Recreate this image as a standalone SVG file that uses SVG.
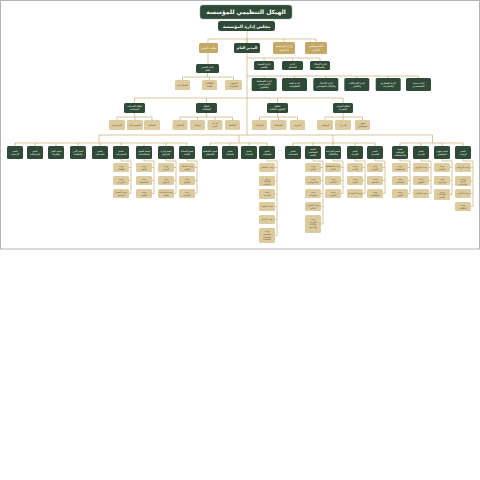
<svg xmlns="http://www.w3.org/2000/svg" width="480" height="480" viewBox="0 0 480 480">
<style>
.g{fill:#2f4a36}
.o{fill:#c4a866}
.l{fill:#dccb9f}
text{font-family:"DejaVu Sans","Noto Sans",sans-serif;text-anchor:middle}
.w{fill:#ffffff}
.d{fill:#5a4a26}
.c{stroke:#c5ad76;stroke-width:0.7;fill:none}
</style>
<rect x="0.5" y="0.5" width="479" height="248.5" fill="#ffffff" stroke="#b5b5b5" stroke-width="1"/>
<g id="connectors" class="c">
<path d="M247,31V135M208,39H316M208,39V43M247,39V43M284,39V42M316,39V42"/>
<path d="M208,53V64M207.5,73V77M182.5,77H233.5M182.5,77V80M209.5,77V80M233.5,77V80"/>
<path d="M247,58H320M264,58V61M292.5,58V61M320,58V61"/>
<path d="M247,76H418.5M264.2,76V78M294.5,76V78M325.8,76V78M356.8,76V78M388.2,76V78M418.5,76V78"/>
<path d="M134.5,98H343M134.5,98V103M206.5,98V103M277.5,98V103M343,98V103"/>
<path d="M134.5,113V117M117,117H152M117,117V120M135,117V120M152,117V120"/>
<path d="M206.5,113V117M180,117H232.5M180,117V120M197.5,117V120M215,117V120M232.5,117V120"/>
<path d="M277.5,113V117M259.5,117H297.5M259.5,117V120M278.5,117V120M297.5,117V120"/>
<path d="M343,113V117M325,117H362.5M325,117V120M343,117V120M362.5,117V120"/>
<path d="M99,135H432.5M99,135V143M239,135V143M333,135V143M432.5,135V143"/>
<path d="M15,143H187M15,143V146M35,143V146M56,143V146M78,143V146M100,143V146M121,143V146M144,143V146M166,143V146M187,143V146"/>
<path d="M210,143H267M210,143V146M230,143V146M249,143V146M267,143V146"/>
<path d="M293,143H375M293,143V146M313,143V146M333,143V146M355,143V146M375,143V146"/>
<path d="M400,143H463M400,143V146M421,143V146M442,143V146M463,143V146"/>
<path d="M121,159V161H131V193.5M131,167.5H129M131,180.5H129M131,193.5H129"/>
<path d="M144,159V161H154V193.5M154,167.5H152M154,180.5H152M154,193.5H152"/>
<path d="M166,159V161H176V193.5M176,167.5H174M176,180.5H174M176,193.5H174"/>
<path d="M187,159V161H197V193.5M197,167.5H195M197,180.5H195M197,193.5H195"/>
<path d="M267,159V161H277V235.5M277,167.5H275M277,181H275M277,194H275M277,206.5H275M277,219.5H275M277,235.5H275"/>
<path d="M313,159V161H323V224M323,167.5H321M323,180.5H321M323,193.5H321M323,206.5H321M323,224H321"/>
<path d="M333,159V161H343V193.5M343,167.5H341M343,180.5H341M343,193.5H341"/>
<path d="M355,159V161H365V193.5M365,167.5H363M365,180.5H363M365,193.5H363"/>
<path d="M375,159V161H385V193.5M385,167.5H383M385,180.5H383M385,193.5H383"/>
<path d="M400,159V161H410V193.5M410,167.5H408M410,180.5H408M410,193.5H408"/>
<path d="M421,159V161H431V193.5M431,167.5H429M431,180.5H429M431,193.5H429"/>
<path d="M442,159V161H452V194.5M452,167.5H450M452,180.5H450M452,194.5H450"/>
<path d="M463,159V161H473V206.5M473,167.5H471M473,181H471M473,193.5H471M473,206.5H471"/>
</g>
<g id="title"><rect x="200" y="5" width="92" height="14" rx="3" class="g" stroke="#8fa58f" stroke-width="0.5"/><text x="246" y="14.2" font-size="6" font-weight="bold" class="w">الهيكل التنظيمي للمؤسسة</text></g>
<g id="board"><rect x="218" y="21" width="57" height="10" rx="2.5" class="g"/><text x="246.5" y="27.7" font-size="4.4" font-weight="bold" class="w">مجلس إدارة المؤسسة</text></g>
<g id="office"><rect x="199" y="43" width="19" height="10" rx="1.5" class="o"/><text x="208.5" y="49" font-size="3" class="w">مكتب المدير</text></g>
<g id="gm"><rect x="234" y="43" width="26" height="10" rx="1.5" class="g"/><text x="247" y="49.3" font-size="3.6" font-weight="bold" class="w">المدير العام</text></g>
<g id="audit"><rect x="273" y="42" width="22" height="12" rx="1.5" class="o"/><text x="284" y="47.2" font-size="2.8" class="w">إدارة المراجعة</text><text x="284" y="50.8" font-size="2.8" class="w">الداخلية</text></g>
<g id="secretariat"><rect x="305" y="42" width="22" height="12" rx="1.5" class="o"/><text x="316" y="47.2" font-size="2.8" class="w">أمانة مجلس</text><text x="316" y="50.8" font-size="2.8" class="w">الإدارة</text></g>
<g id="deputy"><rect x="196" y="64" width="23" height="9" rx="1.5" class="g"/><text x="207.5" y="67.9" font-size="2.6" class="w">نائب المدير</text><text x="207.5" y="71" font-size="2.6" class="w">العام</text></g>
<g id="dep1"><rect x="175" y="80" width="15" height="10" rx="1.5" class="l"/><text x="182.5" y="85.9" font-size="2.4" class="d">السكرتارية</text></g>
<g id="dep2"><rect x="202" y="80" width="15" height="10" rx="1.5" class="l"/><text x="209.5" y="84.4" font-size="2.4" class="d">العلاقات</text><text x="209.5" y="87.3" font-size="2.4" class="d">العامة</text></g>
<g id="dep3"><rect x="225" y="80" width="17" height="10" rx="1.5" class="l"/><text x="233.5" y="84.4" font-size="2.4" class="d">الشؤون</text><text x="233.5" y="87.3" font-size="2.4" class="d">القانونية</text></g>
<g id="r1a"><rect x="254" y="61" width="20" height="9" rx="1.5" class="g"/><text x="264" y="64.9" font-size="2.5" class="w">إدارة الجودة</text><text x="264" y="67.9" font-size="2.5" class="w">والتميز</text></g>
<g id="r1b"><rect x="282" y="61" width="21" height="9" rx="1.5" class="g"/><text x="292.5" y="64.9" font-size="2.5" class="w">إدارة</text><text x="292.5" y="67.9" font-size="2.5" class="w">المخاطر</text></g>
<g id="r1c"><rect x="310" y="61" width="20" height="9" rx="1.5" class="g"/><text x="320" y="64.9" font-size="2.5" class="w">إدارة الامتثال</text><text x="320" y="67.9" font-size="2.5" class="w">والحوكمة</text></g>
<g id="r2a"><rect x="251.7" y="78" width="25" height="13" rx="1.5" class="g"/><text x="264.2" y="82.4" font-size="2.5" class="w">إدارة التخطيط</text><text x="264.2" y="85.4" font-size="2.5" class="w">الاستراتيجي</text><text x="264.2" y="88.4" font-size="2.5" class="w">والتطوير</text></g>
<g id="r2b"><rect x="282" y="78" width="25" height="13" rx="1.5" class="g"/><text x="294.5" y="83.9" font-size="2.5" class="w">إدارة تقنية</text><text x="294.5" y="86.9" font-size="2.5" class="w">المعلومات</text></g>
<g id="r2c"><rect x="313.3" y="78" width="25" height="13" rx="1.5" class="g"/><text x="325.8" y="83.9" font-size="2.5" class="w">إدارة الاتصال</text><text x="325.8" y="86.9" font-size="2.5" class="w">والإعلام المؤسسي</text></g>
<g id="r2d"><rect x="344.3" y="78" width="25" height="13" rx="1.5" class="g"/><text x="356.8" y="83.9" font-size="2.5" class="w">إدارة الشراكات</text><text x="356.8" y="86.9" font-size="2.5" class="w">والتعاون</text></g>
<g id="r2e"><rect x="375.7" y="78" width="25" height="13" rx="1.5" class="g"/><text x="388.2" y="83.9" font-size="2.5" class="w">إدارة المشاريع</text><text x="388.2" y="86.9" font-size="2.5" class="w">والمبادرات</text></g>
<g id="r2f"><rect x="406" y="78" width="25" height="13" rx="1.5" class="g"/><text x="418.5" y="83.9" font-size="2.5" class="w">إدارة خدمة</text><text x="418.5" y="86.9" font-size="2.5" class="w">المستفيدين</text></g>
<g id="s1"><rect x="124" y="103" width="21" height="10" rx="1.5" class="g"/><text x="134.5" y="107.4" font-size="2.5" class="w">قطاع الخدمات</text><text x="134.5" y="110.4" font-size="2.5" class="w">المساندة</text></g>
<g id="s2"><rect x="196" y="103" width="21" height="10" rx="1.5" class="g"/><text x="206.5" y="107.4" font-size="2.5" class="w">قطاع</text><text x="206.5" y="110.4" font-size="2.5" class="w">العمليات</text></g>
<g id="s3"><rect x="267" y="103" width="21" height="10" rx="1.5" class="g"/><text x="277.5" y="107.4" font-size="2.5" class="w">قطاع</text><text x="277.5" y="110.4" font-size="2.5" class="w">الشؤون المالية</text></g>
<g id="s4"><rect x="333" y="103" width="20" height="10" rx="1.5" class="g"/><text x="343" y="107.4" font-size="2.5" class="w">قطاع الموارد</text><text x="343" y="110.4" font-size="2.5" class="w">البشرية</text></g>
<g id="s1a"><rect x="109" y="120" width="16" height="10" rx="1.5" class="l"/><text x="117" y="125.9" font-size="2.3" class="d">المشتريات</text></g>
<g id="s1b"><rect x="127" y="120" width="16" height="10" rx="1.5" class="l"/><text x="135" y="125.9" font-size="2.3" class="d">المستودعات</text></g>
<g id="s1c"><rect x="144" y="120" width="16" height="10" rx="1.5" class="l"/><text x="152" y="125.9" font-size="2.3" class="d">الصيانة</text></g>
<g id="s2a"><rect x="172.5" y="120" width="15" height="10" rx="1.5" class="l"/><text x="180" y="125.9" font-size="2.3" class="d">التشغيل</text></g>
<g id="s2b"><rect x="190" y="120" width="15" height="10" rx="1.5" class="l"/><text x="197.5" y="125.9" font-size="2.3" class="d">الرقابة</text></g>
<g id="s2c"><rect x="207.5" y="120" width="15" height="10" rx="1.5" class="l"/><text x="215" y="124.4" font-size="2.3" class="d">الدعم</text><text x="215" y="127.3" font-size="2.3" class="d">الفني</text></g>
<g id="s2d"><rect x="225" y="120" width="15" height="10" rx="1.5" class="l"/><text x="232.5" y="125.9" font-size="2.3" class="d">السلامة</text></g>
<g id="s3a"><rect x="252" y="120" width="15" height="10" rx="1.5" class="l"/><text x="259.5" y="125.9" font-size="2.3" class="d">الميزانية</text></g>
<g id="s3b"><rect x="270.5" y="120" width="16" height="10" rx="1.5" class="l"/><text x="278.5" y="125.9" font-size="2.3" class="d">المحاسبة</text></g>
<g id="s3c"><rect x="290" y="120" width="15" height="10" rx="1.5" class="l"/><text x="297.5" y="125.9" font-size="2.3" class="d">الخزينة</text></g>
<g id="s4a"><rect x="317" y="120" width="16" height="10" rx="1.5" class="l"/><text x="325" y="125.9" font-size="2.3" class="d">التوظيف</text></g>
<g id="s4b"><rect x="335" y="120" width="16" height="10" rx="1.5" class="l"/><text x="343" y="125.9" font-size="2.3" class="d">التدريب</text></g>
<g id="s4c"><rect x="355" y="120" width="15" height="10" rx="1.5" class="l"/><text x="362.5" y="124.4" font-size="2.3" class="d">شؤون</text><text x="362.5" y="127.3" font-size="2.3" class="d">الموظفين</text></g>
<g id="b1"><rect x="7" y="146" width="16" height="13" rx="1.5" class="g"/><text x="15" y="151.8" font-size="2.4" class="w">قسم</text><text x="15" y="154.8" font-size="2.4" class="w">الأرشيف</text></g>
<g id="b2"><rect x="27" y="146" width="16" height="13" rx="1.5" class="g"/><text x="35" y="151.8" font-size="2.4" class="w">قسم</text><text x="35" y="154.8" font-size="2.4" class="w">المراسلات</text></g>
<g id="b3"><rect x="48" y="146" width="16" height="13" rx="1.5" class="g"/><text x="56" y="151.8" font-size="2.4" class="w">قسم النقل</text><text x="56" y="154.8" font-size="2.4" class="w">والحركة</text></g>
<g id="b4"><rect x="70" y="146" width="16" height="13" rx="1.5" class="g"/><text x="78" y="151.8" font-size="2.4" class="w">قسم الأمن</text><text x="78" y="154.8" font-size="2.4" class="w">والسلامة</text></g>
<g id="b5"><rect x="92" y="146" width="16" height="13" rx="1.5" class="g"/><text x="100" y="151.8" font-size="2.4" class="w">قسم</text><text x="100" y="154.8" font-size="2.4" class="w">الخدمات</text></g>
<g id="b6"><rect x="113" y="146" width="16" height="13" rx="1.5" class="g"/><text x="121" y="151.8" font-size="2.4" class="w">قسم</text><text x="121" y="154.8" font-size="2.4" class="w">المشتريات</text></g>
<g id="b7"><rect x="136" y="146" width="16" height="13" rx="1.5" class="g"/><text x="144" y="151.8" font-size="2.4" class="w">قسم العقود</text><text x="144" y="154.8" font-size="2.4" class="w">والمناقصات</text></g>
<g id="b8"><rect x="158" y="146" width="16" height="13" rx="1.5" class="g"/><text x="166" y="151.8" font-size="2.4" class="w">قسم إدارة</text><text x="166" y="154.8" font-size="2.4" class="w">المرافق</text></g>
<g id="b9"><rect x="179" y="146" width="16" height="13" rx="1.5" class="g"/><text x="187" y="151.8" font-size="2.4" class="w">قسم الصيانة</text><text x="187" y="154.8" font-size="2.4" class="w">العامة</text></g>
<g id="b10"><rect x="202" y="146" width="16" height="13" rx="1.5" class="g"/><text x="210" y="151.8" font-size="2.4" class="w">قسم التخطيط</text><text x="210" y="154.8" font-size="2.4" class="w">التشغيلي</text></g>
<g id="b11"><rect x="222" y="146" width="16" height="13" rx="1.5" class="g"/><text x="230" y="151.8" font-size="2.4" class="w">قسم</text><text x="230" y="154.8" font-size="2.4" class="w">المتابعة</text></g>
<g id="b12"><rect x="241" y="146" width="16" height="13" rx="1.5" class="g"/><text x="249" y="151.8" font-size="2.4" class="w">قسم</text><text x="249" y="154.8" font-size="2.4" class="w">الإحصاء</text></g>
<g id="b13"><rect x="259" y="146" width="16" height="13" rx="1.5" class="g"/><text x="267" y="151.8" font-size="2.4" class="w">قسم</text><text x="267" y="154.8" font-size="2.4" class="w">العمليات</text></g>
<g id="b14"><rect x="285" y="146" width="16" height="13" rx="1.5" class="g"/><text x="293" y="151.8" font-size="2.4" class="w">قسم</text><text x="293" y="154.8" font-size="2.4" class="w">الحسابات</text></g>
<g id="b15"><rect x="305" y="146" width="16" height="13" rx="1.5" class="g"/><text x="313" y="150.3" font-size="2.4" class="w">قسم</text><text x="313" y="153.3" font-size="2.4" class="w">المحاسبة</text><text x="313" y="156.3" font-size="2.4" class="w">العامة</text></g>
<g id="b16"><rect x="325" y="146" width="16" height="13" rx="1.5" class="g"/><text x="333" y="151.8" font-size="2.4" class="w">قسم الميزانية</text><text x="333" y="154.8" font-size="2.4" class="w">والتكاليف</text></g>
<g id="b17"><rect x="347" y="146" width="16" height="13" rx="1.5" class="g"/><text x="355" y="151.8" font-size="2.4" class="w">قسم</text><text x="355" y="154.8" font-size="2.4" class="w">الخزينة</text></g>
<g id="b18"><rect x="367" y="146" width="16" height="13" rx="1.5" class="g"/><text x="375" y="151.8" font-size="2.4" class="w">قسم</text><text x="375" y="154.8" font-size="2.4" class="w">التحصيل</text></g>
<g id="b19"><rect x="392" y="146" width="16" height="13" rx="1.5" class="g"/><text x="400" y="150.3" font-size="2.4" class="w">قسم</text><text x="400" y="153.3" font-size="2.4" class="w">التوظيف</text><text x="400" y="156.3" font-size="2.4" class="w">والاستقطاب</text></g>
<g id="b20"><rect x="413" y="146" width="16" height="13" rx="1.5" class="g"/><text x="421" y="151.8" font-size="2.4" class="w">قسم</text><text x="421" y="154.8" font-size="2.4" class="w">التدريب</text></g>
<g id="b21"><rect x="434" y="146" width="16" height="13" rx="1.5" class="g"/><text x="442" y="151.8" font-size="2.4" class="w">قسم شؤون</text><text x="442" y="154.8" font-size="2.4" class="w">الموظفين</text></g>
<g id="b22"><rect x="455" y="146" width="16" height="13" rx="1.5" class="g"/><text x="463" y="151.8" font-size="2.4" class="w">قسم</text><text x="463" y="154.8" font-size="2.4" class="w">الرواتب</text></g>
<g id="c6"><rect x="113" y="163" width="16" height="9" rx="1.5" class="l"/><text x="121" y="166.9" font-size="2.2" class="d">وحدة</text><text x="121" y="169.7" font-size="2.2" class="d">الطلبات</text><rect x="113" y="176" width="16" height="9" rx="1.5" class="l"/><text x="121" y="179.9" font-size="2.2" class="d">وحدة</text><text x="121" y="182.7" font-size="2.2" class="d">الموردين</text><rect x="113" y="189" width="16" height="9" rx="1.5" class="l"/><text x="121" y="192.9" font-size="2.2" class="d">وحدة الشراء</text><text x="121" y="195.7" font-size="2.2" class="d">المباشر</text></g>
<g id="c7"><rect x="136" y="163" width="16" height="9" rx="1.5" class="l"/><text x="144" y="166.9" font-size="2.2" class="d">وحدة</text><text x="144" y="169.7" font-size="2.2" class="d">العقود</text><rect x="136" y="176" width="16" height="9" rx="1.5" class="l"/><text x="144" y="179.9" font-size="2.2" class="d">وحدة</text><text x="144" y="182.7" font-size="2.2" class="d">المناقصات</text><rect x="136" y="189" width="16" height="9" rx="1.5" class="l"/><text x="144" y="192.9" font-size="2.2" class="d">وحدة</text><text x="144" y="195.7" font-size="2.2" class="d">التقييم</text></g>
<g id="c8"><rect x="158" y="163" width="16" height="9" rx="1.5" class="l"/><text x="166" y="166.9" font-size="2.2" class="d">وحدة</text><text x="166" y="169.7" font-size="2.2" class="d">المباني</text><rect x="158" y="176" width="16" height="9" rx="1.5" class="l"/><text x="166" y="179.9" font-size="2.2" class="d">وحدة</text><text x="166" y="182.7" font-size="2.2" class="d">المرافق</text><rect x="158" y="189" width="16" height="9" rx="1.5" class="l"/><text x="166" y="192.9" font-size="2.2" class="d">وحدة الخدمات</text><text x="166" y="195.7" font-size="2.2" class="d">العامة</text></g>
<g id="c9"><rect x="179" y="163" width="16" height="9" rx="1.5" class="l"/><text x="187" y="166.9" font-size="2.2" class="d">وحدة الصيانة</text><text x="187" y="169.7" font-size="2.2" class="d">الوقائية</text><rect x="179" y="176" width="16" height="9" rx="1.5" class="l"/><text x="187" y="179.9" font-size="2.2" class="d">وحدة</text><text x="187" y="182.7" font-size="2.2" class="d">الإصلاح</text><rect x="179" y="189" width="16" height="9" rx="1.5" class="l"/><text x="187" y="192.9" font-size="2.2" class="d">وحدة</text><text x="187" y="195.7" font-size="2.2" class="d">المعدات</text></g>
<g id="c13"><rect x="259" y="163" width="16" height="9" rx="1.5" class="l"/><text x="267" y="168.3" font-size="2.2" class="d">وحدة التشغيل</text><rect x="259" y="176" width="16" height="10" rx="1.5" class="l"/><text x="267" y="179.6" font-size="2.2" class="d">وحدة</text><text x="267" y="182.2" font-size="2.2" class="d">المراقبة</text><text x="267" y="184.8" font-size="2.2" class="d">والتحكم</text><rect x="259" y="189" width="16" height="10" rx="1.5" class="l"/><text x="267" y="193.4" font-size="2.2" class="d">وحدة</text><text x="267" y="196.2" font-size="2.2" class="d">الجدولة</text><rect x="259" y="202" width="16" height="9" rx="1.5" class="l"/><text x="267" y="207.3" font-size="2.2" class="d">وحدة الجودة</text><rect x="259" y="215" width="16" height="9" rx="1.5" class="l"/><text x="267" y="220.3" font-size="2.2" class="d">وحدة الدعم</text><rect x="259" y="228" width="16" height="15" rx="1.5" class="l"/><text x="267" y="232.2" font-size="2.2" class="d">وحدة</text><text x="267" y="234.9" font-size="2.2" class="d">التحسين</text><text x="267" y="237.6" font-size="2.2" class="d">المستمر</text><text x="267" y="240.3" font-size="2.2" class="d">للعمليات</text></g>
<g id="c15"><rect x="305" y="163" width="16" height="9" rx="1.5" class="l"/><text x="313" y="166.9" font-size="2.2" class="d">وحدة</text><text x="313" y="169.7" font-size="2.2" class="d">القيود</text><rect x="305" y="176" width="16" height="9" rx="1.5" class="l"/><text x="313" y="179.9" font-size="2.2" class="d">وحدة</text><text x="313" y="182.7" font-size="2.2" class="d">المدفوعات</text><rect x="305" y="189" width="16" height="9" rx="1.5" class="l"/><text x="313" y="192.9" font-size="2.2" class="d">وحدة</text><text x="313" y="195.7" font-size="2.2" class="d">التسويات</text><rect x="305" y="202" width="16" height="9" rx="1.5" class="l"/><text x="313" y="205.9" font-size="2.2" class="d">وحدة التقارير</text><text x="313" y="208.7" font-size="2.2" class="d">المالية</text><rect x="305" y="215" width="16" height="18" rx="1.5" class="l"/><text x="313" y="219.8" font-size="2.2" class="d">وحدة</text><text x="313" y="222.6" font-size="2.2" class="d">الضرائب</text><text x="313" y="225.4" font-size="2.2" class="d">والزكاة</text><text x="313" y="228.2" font-size="2.2" class="d">والرسوم</text></g>
<g id="c16"><rect x="325" y="163" width="16" height="9" rx="1.5" class="l"/><text x="333" y="166.9" font-size="2.2" class="d">وحدة التخطيط</text><text x="333" y="169.7" font-size="2.2" class="d">المالي</text><rect x="325" y="176" width="16" height="9" rx="1.5" class="l"/><text x="333" y="179.9" font-size="2.2" class="d">وحدة</text><text x="333" y="182.7" font-size="2.2" class="d">التكاليف</text><rect x="325" y="189" width="16" height="9" rx="1.5" class="l"/><text x="333" y="192.9" font-size="2.2" class="d">وحدة</text><text x="333" y="195.7" font-size="2.2" class="d">الموازنة</text></g>
<g id="c17"><rect x="347" y="163" width="16" height="9" rx="1.5" class="l"/><text x="355" y="166.9" font-size="2.2" class="d">وحدة</text><text x="355" y="169.7" font-size="2.2" class="d">النقدية</text><rect x="347" y="176" width="16" height="9" rx="1.5" class="l"/><text x="355" y="179.9" font-size="2.2" class="d">وحدة</text><text x="355" y="182.7" font-size="2.2" class="d">البنوك</text><rect x="347" y="189" width="16" height="9" rx="1.5" class="l"/><text x="355" y="194.3" font-size="2.2" class="d">وحدة الاستثمار</text></g>
<g id="c18"><rect x="367" y="163" width="16" height="9" rx="1.5" class="l"/><text x="375" y="166.9" font-size="2.2" class="d">وحدة</text><text x="375" y="169.7" font-size="2.2" class="d">الفواتير</text><rect x="367" y="176" width="16" height="9" rx="1.5" class="l"/><text x="375" y="179.9" font-size="2.2" class="d">وحدة</text><text x="375" y="182.7" font-size="2.2" class="d">التحصيل</text><rect x="367" y="189" width="16" height="9" rx="1.5" class="l"/><text x="375" y="192.9" font-size="2.2" class="d">وحدة</text><text x="375" y="195.7" font-size="2.2" class="d">المطالبات</text></g>
<g id="c19"><rect x="392" y="163" width="16" height="9" rx="1.5" class="l"/><text x="400" y="166.9" font-size="2.2" class="d">وحدة</text><text x="400" y="169.7" font-size="2.2" class="d">الاستقطاب</text><rect x="392" y="176" width="16" height="9" rx="1.5" class="l"/><text x="400" y="179.9" font-size="2.2" class="d">وحدة</text><text x="400" y="182.7" font-size="2.2" class="d">المقابلات</text><rect x="392" y="189" width="16" height="9" rx="1.5" class="l"/><text x="400" y="192.9" font-size="2.2" class="d">وحدة</text><text x="400" y="195.7" font-size="2.2" class="d">التعيين</text></g>
<g id="c20"><rect x="413" y="163" width="16" height="9" rx="1.5" class="l"/><text x="421" y="168.3" font-size="2.2" class="d">وحدة البرامج</text><rect x="413" y="176" width="16" height="9" rx="1.5" class="l"/><text x="421" y="179.9" font-size="2.2" class="d">وحدة</text><text x="421" y="182.7" font-size="2.2" class="d">التطوير</text><rect x="413" y="189" width="16" height="9" rx="1.5" class="l"/><text x="421" y="194.3" font-size="2.2" class="d">وحدة التقييم</text></g>
<g id="c21"><rect x="434" y="163" width="16" height="9" rx="1.5" class="l"/><text x="442" y="166.9" font-size="2.2" class="d">وحدة</text><text x="442" y="169.7" font-size="2.2" class="d">الملفات</text><rect x="434" y="176" width="16" height="9" rx="1.5" class="l"/><text x="442" y="179.9" font-size="2.2" class="d">وحدة</text><text x="442" y="182.7" font-size="2.2" class="d">الإجازات</text><rect x="434" y="189" width="16" height="11" rx="1.5" class="l"/><text x="442" y="192.6" font-size="2.2" class="d">وحدة</text><text x="442" y="195.3" font-size="2.2" class="d">الخدمات</text><text x="442" y="198" font-size="2.2" class="d">الذاتية</text></g>
<g id="c22"><rect x="455" y="163" width="16" height="9" rx="1.5" class="l"/><text x="463" y="168.3" font-size="2.2" class="d">وحدة الرواتب</text><rect x="455" y="176" width="16" height="10" rx="1.5" class="l"/><text x="463" y="179.6" font-size="2.2" class="d">وحدة</text><text x="463" y="182.2" font-size="2.2" class="d">المزايا</text><text x="463" y="184.8" font-size="2.2" class="d">والبدلات</text><rect x="455" y="189" width="16" height="9" rx="1.5" class="l"/><text x="463" y="194.3" font-size="2.2" class="d">وحدة التأمين</text><rect x="455" y="202" width="16" height="9" rx="1.5" class="l"/><text x="463" y="205.9" font-size="2.2" class="d">وحدة</text><text x="463" y="208.7" font-size="2.2" class="d">المكافآت</text></g>
</svg>
